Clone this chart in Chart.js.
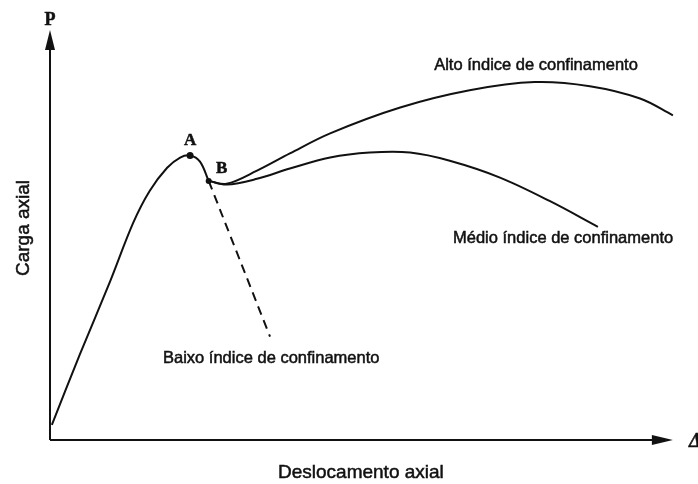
<!DOCTYPE html>
<html lang="pt">
<head>
  <meta charset="UTF-8">
  <title>Carga axial x Deslocamento axial</title>
  <style>
    * { margin: 0; padding: 0; box-sizing: border-box; }
    body { background-color: #fff; }
    #wrap { width: 698px; height: 484px; }
  </style>
  <script src="https://cdn.jsdelivr.net/npm/chart.js"></script>
</head>
<body>
  <div id="wrap"><canvas id="chart" width="698" height="484"></canvas></div>

  <script>
    // schematic curves, arbitrary units (0-100 on both axes)
    const riseX = [0.3, 4.8, 9.7, 13.4, 16.1, 18.9, 21.0, 22.6, 24.2, 25.6];
    const riseY = [3.7, 20.8, 38.7, 52.9, 60.8, 66.4, 68.9, 69.4, 67.9, 63.2];

    const baixoX = [25.6, 35.5];
    const baixoY = [63.2, 25.2];

    const medioX = [25.6, 28.5, 33.4, 38.7, 45.2, 51.6, 58.1, 64.5, 72.6, 80.6, 88.4];
    const medioY = [63.2, 62.3, 63.7, 66.2, 68.9, 70.1, 70.1, 68.1, 64.0, 58.3, 52.0];

    const altoX = [25.6, 28.5, 33.4, 38.7, 45.2, 56.5, 67.7, 78.2, 87.1, 95.2, 100.5];
    const altoY = [63.2, 62.5, 65.7, 69.9, 74.8, 81.1, 85.3, 87.3, 86.3, 83.3, 79.2];

    const markNames = ['A', 'B'];
    const markX = [22.6, 25.6];
    const markY = [69.4, 63.2];

    const toPoints = (xs, ys) => xs.map((x, i) => ({ x: x, y: ys[i] }));

    function lineSet(xs, ys, dash) {
      return {
        data: toPoints(xs, ys),
        showLine: true,
        borderColor: '#111',
        borderWidth: 2,
        borderDash: dash || [],
        pointRadius: 0,
        tension: 0.35,
        clip: false
      };
    }

    function label(ctx, text, x, y) {
      ctx.fillText(text, x, y);
      ctx.strokeText(text, x, y);
    }

    // axes with arrows + all the labels
    const sketchPlugin = {
      id: 'sketch',
      afterDraw(chart) {
        const ctx = chart.ctx;
        const xs = chart.scales.x;
        const ys = chart.scales.y;
        const x0 = xs.getPixelForValue(0);
        const y0 = ys.getPixelForValue(0);
        const xEnd = xs.getPixelForValue(100.5);
        const yEnd = ys.getPixelForValue(100);

        ctx.save();
        ctx.strokeStyle = '#111';
        ctx.fillStyle = '#111';
        ctx.lineWidth = 2;
        ctx.beginPath();
        ctx.moveTo(x0, y0);
        ctx.lineTo(x0, yEnd + 10);
        ctx.moveTo(x0, y0);
        ctx.lineTo(xEnd - 12, y0);
        ctx.stroke();

        // arrow heads
        ctx.beginPath();
        ctx.moveTo(x0, yEnd);
        ctx.lineTo(x0 - 5, yEnd + 20);
        ctx.lineTo(x0 + 5, yEnd + 20);
        ctx.closePath();
        ctx.fill();
        ctx.beginPath();
        ctx.moveTo(xEnd, y0);
        ctx.lineTo(xEnd - 21, y0 - 5);
        ctx.lineTo(xEnd - 21, y0 + 5);
        ctx.closePath();
        ctx.fill();

        ctx.lineWidth = 0.5;
        ctx.textBaseline = 'middle';
        ctx.textAlign = 'center';
        ctx.font = 'bold 18px "Liberation Serif", serif';
        label(ctx, 'P', x0, 20);
        ctx.textAlign = 'left';
        ctx.font = 'bold italic 20px "Liberation Serif", serif';
        label(ctx, 'Δ', 689, y0 + 2);

        ctx.textAlign = 'center';
        ctx.font = 'bold 17px "Liberation Serif", serif';
        for (let i = 0; i < markNames.length; i++) {
          const px = xs.getPixelForValue(markX[i]);
          const py = ys.getPixelForValue(markY[i]);
          if (i === 0) label(ctx, markNames[i], px, py - 15);
          else label(ctx, markNames[i], px + 13, py - 12);
        }

        ctx.font = '19px "Liberation Sans", Arial, sans-serif';
        ctx.textAlign = 'left';
        label(ctx, 'Deslocamento axial', 278, 473);
        ctx.textAlign = 'center';
        ctx.save();
        ctx.translate(24, 228);
        ctx.rotate(-Math.PI / 2);
        label(ctx, 'Carga axial', 0, 0);
        ctx.restore();

        ctx.font = '16.5px "Liberation Sans", Arial, sans-serif';
        label(ctx, 'Alto índice de confinamento', 536, 65);
        ctx.textAlign = 'left';
        label(ctx, 'Médio índice de confinamento', 453, 238);
        label(ctx, 'Baixo índice de confinamento', 163, 358);
        ctx.restore();
      }
    };

    new Chart(document.getElementById('chart'), {
      type: 'scatter',
      data: {
        datasets: [
          lineSet(riseX, riseY),
          lineSet(baixoX, baixoY, [9, 6]),
          lineSet(medioX, medioY),
          lineSet(altoX, altoY),
          {
            data: toPoints(markX, markY),
            pointRadius: [3.5, 3],
            pointBackgroundColor: '#111',
            pointBorderWidth: 0,
            showLine: false
          }
        ]
      },
      options: {
        responsive: false,
        animation: false,
        layout: { padding: { left: 50, right: 22, top: 30, bottom: 44 } },
        plugins: { legend: { display: false }, tooltip: { enabled: false } },
        scales: {
          x: { type: 'linear', min: 0, max: 101, display: false },
          y: { type: 'linear', min: 0, max: 100, display: false }
        }
      },
      plugins: [sketchPlugin]
    });
  </script>
</body>
</html>
